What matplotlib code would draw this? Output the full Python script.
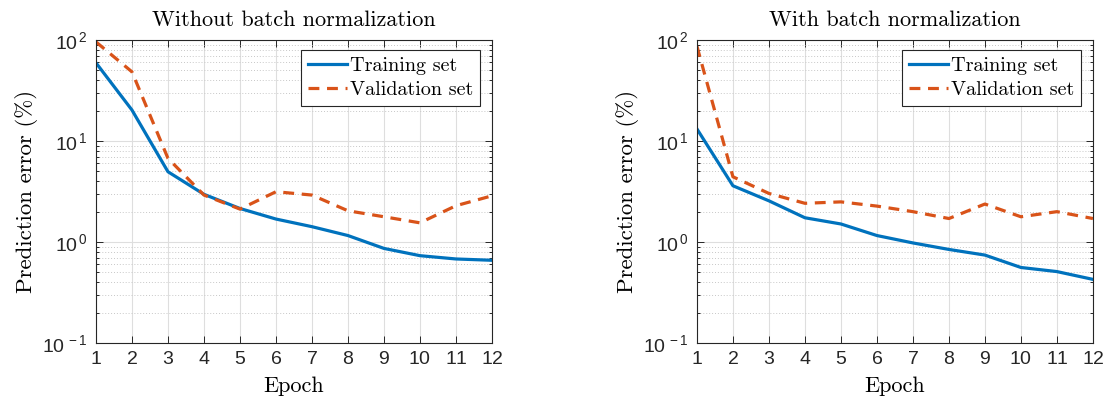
import numpy as np
import matplotlib
matplotlib.use("Agg")
from matplotlib import pyplot as plt
from matplotlib.ticker import LogLocator, FixedLocator, FuncFormatter, NullFormatter

# epochs shared by both panels
epochs = list(range(1, 13))

# panel 1: without batch normalization
train_no_bn = [59.6, 20.3, 4.97, 2.97, 2.15, 1.69, 1.42, 1.16, 0.865, 0.733, 0.68, 0.66]
valid_no_bn = [96.0, 48.5, 6.75, 2.92, 2.12, 3.15, 2.92, 2.04, 1.78, 1.55, 2.29, 2.87]

# panel 2: with batch normalization
train_bn = [13.2, 3.61, 2.56, 1.74, 1.51, 1.16, 0.98, 0.845, 0.743, 0.56, 0.51, 0.427]
valid_bn = [87.0, 4.43, 3.03, 2.42, 2.50, 2.27, 2.00, 1.71, 2.38, 1.78, 2.00, 1.71]

titles = ["Without batch normalization", "With batch normalization"]
series_labels = ["Training set", "Validation set"]

plt.rcParams["font.family"] = ["cmr10", "DejaVu Serif"]
plt.rcParams["axes.formatter.use_mathtext"] = True
plt.rcParams["mathtext.fontset"] = "cm"

blue = "#0072BD"
orange = "#D95319"

fig = plt.figure(figsize=(11.08, 4.05), dpi=100)
ax1 = fig.add_axes([0.0866, 0.153, 0.3574, 0.748])
ax2 = fig.add_axes([0.629, 0.153, 0.3574, 0.748])


def exp_label(v, pos):
    # MATLAB style 10^n tick labels
    return r"$\mathregular{10^{\,%d}}$" % int(round(np.log10(v)))


def style_axes(ax, title, train, valid):
    ax.plot(epochs, train, color=blue, lw=2.3, label=series_labels[0])
    ax.plot(epochs, valid, color=orange, lw=2.3, ls=(0, (3.4, 2.4)), label=series_labels[1])

    ax.set_yscale("log")
    ax.set_xlim(1, 12)
    ax.set_ylim(0.1, 100)

    ax.xaxis.set_major_locator(FixedLocator(epochs))
    ax.yaxis.set_major_locator(LogLocator(base=10, numticks=10))
    ax.yaxis.set_minor_locator(LogLocator(base=10, subs=np.arange(2, 10), numticks=20))
    ax.yaxis.set_major_formatter(FuncFormatter(exp_label))
    ax.yaxis.set_minor_formatter(NullFormatter())

    ax.grid(True, which="major", color="#dedede", lw=0.8, ls="-")
    ax.grid(True, which="minor", axis="y", color="#c8c8c8", lw=0.7, ls=(0, (1, 2)))
    ax.set_axisbelow(True)

    ax.tick_params(which="both", direction="in", top=True, right=True,
                   color="#262626", width=0.7)
    ax.tick_params(which="major", length=5, labelsize=14, pad=6)
    ax.tick_params(which="minor", length=2.5)
    for lab in ax.get_xticklabels() + ax.get_yticklabels():
        lab.set_fontfamily("Liberation Sans")
        lab.set_color("#262626")
    for sp in ax.spines.values():
        sp.set_color("#262626")
        sp.set_linewidth(0.8)

    ax.set_title(title, fontsize=16, pad=10)
    ax.set_xlabel("Epoch", fontsize=16, labelpad=6)
    ax.set_ylabel("Prediction error (%)", fontsize=16.5, labelpad=3)

    leg = ax.legend(loc="upper right", bbox_to_anchor=(0.970, 0.967), fontsize=14.5,
                    fancybox=False, framealpha=1, edgecolor="#262626",
                    borderpad=0.35, handlelength=1.9, handletextpad=0.15,
                    labelspacing=0.3, borderaxespad=0.0)
    leg.get_frame().set_linewidth(0.8)


style_axes(ax1, titles[0], train_no_bn, valid_no_bn)
style_axes(ax2, titles[1], train_bn, valid_bn)

fig.savefig("out.png", dpi=100)
